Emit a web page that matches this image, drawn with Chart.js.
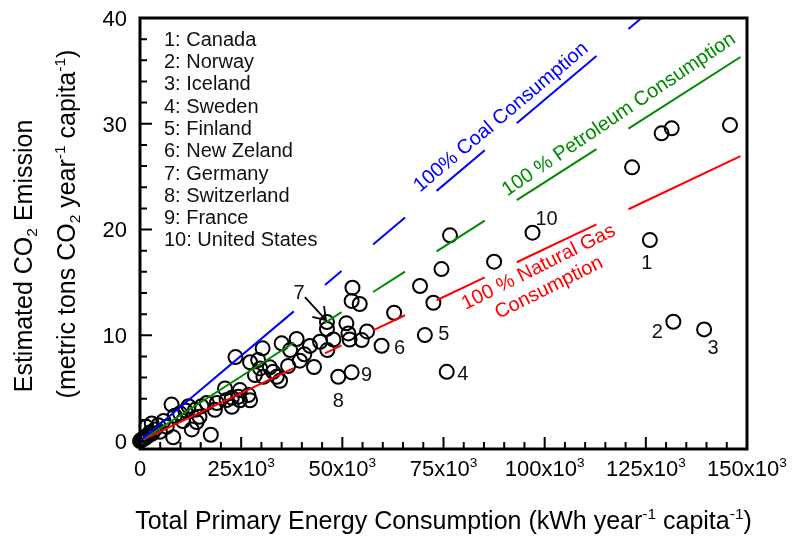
<!DOCTYPE html>
<html>
<head>
<meta charset="utf-8">
<script src="https://cdn.jsdelivr.net/npm/chart.js@4.4.1/dist/chart.umd.min.js"></script>
<style>
  html, body { margin: 0; padding: 0; background: #fff; }
  #wrap { width: 793px; height: 537px; position: relative; }
</style>
</head>
<body>
<div id="wrap"><canvas id="chart" width="793" height="537"></canvas></div>
<script>
// Per-capita primary energy use (kWh per year) and CO2 emission (metric tons per year)
const otherEnergy = [
  0, 300, 600, 900, 1200, 1500, 2000, 2400, 3000, 1600, 2900, 3700, 4900, 4500, 6600, 5800,
  7800, 8200, 8600, 9900, 10600, 11200, 12000, 12800, 14000, 14700, 13600, 15200, 16500, 17500,
  18500, 19000, 21000, 21400, 22700, 22700, 24300, 24700, 24700, 26800, 27200,
  23600, 27200, 29200, 29700, 28400, 30300, 32100, 32900, 33800, 34600, 30500, 35000, 38700,
  36600, 37100, 39500, 40600, 42000, 43000, 44500, 46300, 47800, 46200, 51000, 51500, 51800,
  52500, 52300, 54300, 54800, 56100, 62800, 69200, 72500, 74500, 76600, 87500,
  121600, 128900, 131400, 145800
];
const otherCO2 = [
  0, 0.1, 0.15, 0.3, 0.25, 0.45, 0.5, 0.8, 0.7, 1.35, 1.67, 1.1, 0.88, 1.5, 1.35, 1.9,
  3.45, 0.35, 2.4, 2.62, 1.9, 2.9, 3.3, 1.1, 1.8, 2.3, 2.95, 3.3, 3.6, 0.6,
  2.95, 3.6, 4.98, 3.88, 3.24, 4.1, 4.2, 4.82, 3.85, 4.35, 3.85,
  7.94, 7.45, 7.66, 6.87, 6.24, 8.77, 6.97, 6.55, 6.08, 5.7, 6.08, 9.24, 9.65,
  7.1, 8.6, 7.6, 8.2, 9.0, 7.0, 9.39, 8.6, 9.6, 10.6, 11.13, 10.18, 9.6,
  14.5, 13.25, 12.96, 9.55, 10.37, 12.13, 14.66, 13.08, 16.26, 19.45, 16.96,
  25.88, 29.1, 29.57, 29.88
];

// Numbered countries
const countryNames = ['Canada', 'Norway', 'Iceland', 'Sweden', 'Finland',
  'New Zeland', 'Germany', 'Switzerland', 'France', 'United States'];
const countryEnergy = [126000, 131800, 139400, 75800, 70400, 59700, 46200, 49000, 52300, 97000];
const countryCO2 = [19.0, 11.28, 10.56, 6.55, 10.02, 9.01, 11.25, 6.08, 6.5, 19.7];

// Emission factors of the reference fuels (metric tons CO2 per kWh)
const fuelNames = ['100% Coal Consumption', '100 % Petroleum Consumption', '100 % Natural Gas Consumption'];
const fuelFactors = [0.0003227, 0.0002447, 0.0001816];
// Energy ranges (kWh) where the reference lines are drawn
const lineRanges = [[0, 38000], [45700, 49800], [57600, 65500], [73300, 85200], [93100, 112800], [120700, 148400]];

// Axis ticks
const xTicks = [0, 25000, 50000, 75000, 100000, 125000, 150000];
const yTicks = [0, 10, 20, 30, 40];

const BLUE = '#0000ff', GREEN = '#008a00', RED = '#ff0000';
const fuelColors = [BLUE, GREEN, RED];
const FAMILY = "'Liberation Sans', Arial, sans-serif";
const fnt = s => s + 'px ' + FAMILY;

// label offsets (px) of the country numbers relative to their circles
const countryLabelOffset = [[-3, 22], [-16, 9], [9, 17], [16, 1], [19, -2], [18, 1], [-28, -30], [0, 23], [15, 1], [14, -15]];

// Rotated captions of the reference lines: anchor in data units, angle in degrees
const fuelCaptions = [
  { lines: ['100% Coal Consumption'], at: [88960, 30.73], angle: -40, color: BLUE },
  { lines: ['100 % Petroleum Consumption'], at: [118100, 31.0], angle: -34, color: GREEN },
  { lines: ['100 % Natural Gas', 'Consumption'], at: [99600, 15.6], angle: -26.5, color: RED }
];

function buildFuelLine(factor) {
  const pts = [];
  lineRanges.forEach(([a, b], i) => {
    pts.push({ x: a, y: factor * a }, { x: b, y: factor * b });
    if (i < lineRanges.length - 1) pts.push({ x: (b + lineRanges[i + 1][0]) / 2, y: null });
  });
  return pts;
}

// rich text: parts are [text, kind] with kind '', 'sup' or 'sub'
function drawRich(ctx, parts, x, y, size, opt) {
  const o = Object.assign({ align: 'left', angle: 0, color: '#000', middle: false }, opt || {});
  ctx.save();
  ctx.translate(x, y);
  ctx.rotate(o.angle * Math.PI / 180);
  ctx.fillStyle = o.color;
  ctx.textAlign = 'left';
  ctx.textBaseline = 'alphabetic';
  let w = 0;
  for (const [t, k] of parts) { ctx.font = fnt(k ? size * 0.62 : size); w += ctx.measureText(t).width; }
  let cx = o.align === 'center' ? -w / 2 : o.align === 'right' ? -w : 0;
  const base = o.middle ? size * 0.36 : 0;
  for (const [t, k] of parts) {
    ctx.font = fnt(k ? size * 0.62 : size);
    const dy = k === 'sup' ? -size * 0.42 : k === 'sub' ? size * 0.2 : 0;
    ctx.fillText(t, cx, base + dy);
    cx += ctx.measureText(t).width;
  }
  ctx.restore();
}

const decorations = {
  id: 'decorations',
  afterDatasetsDraw(chart) {
    const { ctx, chartArea: a, scales: { x, y } } = chart;
    ctx.save();
    // frame
    ctx.strokeStyle = '#000';
    ctx.lineWidth = 3;
    ctx.strokeRect(a.left, a.top, a.right - a.left, a.bottom - a.top);
    // inward ticks
    ctx.lineWidth = 2;
    ctx.beginPath();
    for (let v = 0; v <= 40; v += 2) {
      const py = y.getPixelForValue(v);
      const len = v % 10 === 0 ? 12 : 7;
      ctx.moveTo(a.left, py); ctx.lineTo(a.left + len, py);
    }
    for (let v = 0; v <= 150000; v += 5000) {
      const px = x.getPixelForValue(v);
      const len = v % 25000 === 0 ? 12 : 7;
      ctx.moveTo(px, a.bottom); ctx.lineTo(px, a.bottom - len);
    }
    ctx.stroke();

    // tick labels
    yTicks.forEach(v => drawRich(ctx, [[String(v), '']], a.left - 13, y.getPixelForValue(v), 22, { align: 'right', middle: true }));
    xTicks.forEach(v => {
      const parts = v === 0 ? [['0', '']] : [[(v / 1000) + 'x10', ''], ['3', 'sup']];
      drawRich(ctx, parts, x.getPixelForValue(v), a.bottom + 27, 22, { align: 'center' });
    });

    // axis titles
    drawRich(ctx, [['Total Primary Energy Consumption (kWh year', ''], ['-1', 'sup'], [' capita', ''], ['-1', 'sup'], [')', '']],
      (a.left + a.right) / 2, 529, 25, { align: 'center' });
    drawRich(ctx, [['Estimated CO', ''], ['2', 'sub'], [' Emission', '']], 32, 256, 25, { align: 'center', angle: -90 });
    drawRich(ctx, [['(metric tons CO', ''], ['2', 'sub'], [' year', ''], ['-1', 'sup'], [' capita', ''], ['-1', 'sup'], [')', '']],
      75, 224, 25, { align: 'center', angle: -90 });

    // country key
    countryNames.forEach((n, i) => drawRich(ctx, [[(i + 1) + ': ' + n, '']], 164, 38.5 + i * 22.3, 20, { middle: true, color: '#111' }));

    // country numbers
    countryNames.forEach((n, i) => {
      const px = x.getPixelForValue(countryEnergy[i]) + countryLabelOffset[i][0];
      const py = y.getPixelForValue(countryCO2[i]) + countryLabelOffset[i][1];
      drawRich(ctx, [[String(i + 1), '']], px, py, 20, { align: 'center', middle: true, color: '#111' });
    });

    // arrow from "7" to its circle
    const gx = x.getPixelForValue(countryEnergy[6]), gy = y.getPixelForValue(countryCO2[6]);
    const sx = gx - 22, sy = gy - 25, tx = gx - 1, ty = gy - 2;
    const ang = Math.atan2(ty - sy, tx - sx);
    ctx.strokeStyle = '#000';
    ctx.lineWidth = 1.8;
    ctx.beginPath();
    ctx.moveTo(sx, sy); ctx.lineTo(tx, ty);
    ctx.moveTo(tx + 14 * Math.cos(ang + Math.PI - 0.6), ty + 14 * Math.sin(ang + Math.PI - 0.6));
    ctx.lineTo(tx, ty);
    ctx.lineTo(tx + 14 * Math.cos(ang + Math.PI + 0.6), ty + 14 * Math.sin(ang + Math.PI + 0.6));
    ctx.stroke();

    // captions of the reference lines
    fuelCaptions.forEach(c => {
      const px = x.getPixelForValue(c.at[0]), py = y.getPixelForValue(c.at[1]);
      const r = c.angle * Math.PI / 180;
      c.lines.forEach((t, j) => {
        const off = (j - (c.lines.length - 1) / 2) * 23;
        drawRich(ctx, [[t, '']], px - Math.sin(r) * off, py + Math.cos(r) * off, 20,
          { align: 'center', angle: c.angle, color: c.color, middle: true });
      });
    });
    ctx.restore();
  }
};

const scatterPoints = otherEnergy.map((e, i) => ({ x: e, y: otherCO2[i] }))
  .concat(countryEnergy.map((e, i) => ({ x: e, y: countryCO2[i] })));

const datasets = fuelNames.map((name, i) => ({
  type: 'line',
  label: name,
  data: buildFuelLine(fuelFactors[i]),
  borderColor: fuelColors[i],
  borderWidth: 2,
  pointRadius: 0,
  spanGaps: false,
  fill: false,
  tension: 0,
  order: 1
}));
datasets.push({
  type: 'scatter',
  label: 'Countries',
  data: scatterPoints,
  pointStyle: 'circle',
  pointRadius: 7,
  borderWidth: 2,
  borderColor: '#000',
  backgroundColor: 'rgba(0,0,0,0)',
  clip: false,
  order: 2
});

new Chart(document.getElementById('chart'), {
  type: 'scatter',
  data: { datasets },
  options: {
    responsive: false,
    animation: false,
    events: [],
    layout: { padding: { left: 0, right: 46, top: 18, bottom: 0 } },
    plugins: { legend: { display: false }, tooltip: { enabled: false } },
    scales: {
      x: {
        type: 'linear', min: 0, max: 150000,
        ticks: { display: false },
        grid: { display: false },
        border: { display: false },
        afterBuildTicks: s => { s.ticks = xTicks.map(v => ({ value: v })); },
        afterFit: s => { s.height = 537 - 449; }
      },
      y: {
        type: 'linear', min: -0.75, max: 40,
        ticks: { display: false },
        grid: { display: false },
        border: { display: false },
        afterBuildTicks: s => { s.ticks = yTicks.map(v => ({ value: v })); },
        afterFit: s => { s.width = 140; }
      }
    }
  },
  plugins: [decorations]
});
</script>
</body>
</html>
